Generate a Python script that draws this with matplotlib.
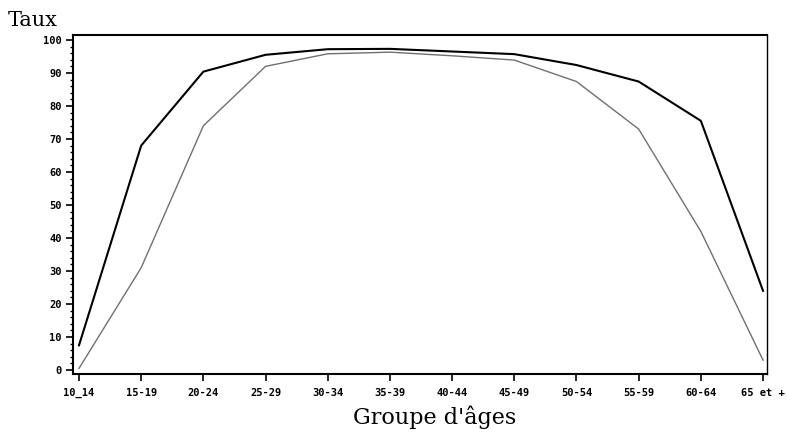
import matplotlib.pyplot as plt
from matplotlib.ticker import MultipleLocator

age_groups = ["10_14", "15-19", "20-24", "25-29", "30-34", "35-39",
              "40-44", "45-49", "50-54", "55-59", "60-64", "65 et +"]
taux_hommes = [7.5, 68, 90.4, 95.5, 97.2, 97.3, 96.5, 95.7, 92.4, 87.4, 75.5, 24]
taux_femmes = [0.5, 31, 74, 92, 95.8, 96.3, 95.2, 93.9, 87.4, 73, 42, 3]
y_ticks = [0, 10, 20, 30, 40, 50, 60, 70, 80, 90, 100]


def main():
    fig = plt.figure(figsize=(7.87, 4.38), dpi=100)
    ax = fig.add_axes([0.0928, 0.1461, 0.8818, 0.774])

    x = range(len(age_groups))
    ax.plot(x, taux_hommes, color="black", linewidth=1.5)
    ax.plot(x, taux_femmes, color="#707070", linewidth=1.0)

    ax.set_xlim(-0.096, 11.064)
    ax.set_ylim(-1.2, 101.5)

    ax.set_xticks(list(x))
    ax.set_xticklabels(age_groups, family="DejaVu Sans Mono",
                       fontsize=7.5, fontweight="bold")
    ax.set_yticks(y_ticks)
    ax.set_yticklabels([str(v) for v in y_ticks], family="DejaVu Sans Mono",
                       fontsize=7.5, fontweight="bold")
    ax.yaxis.set_minor_locator(MultipleLocator(2))
    ax.tick_params(axis="both", which="major", length=5, width=1.2,
                   direction="out", pad=3)
    ax.tick_params(axis="x", which="major", pad=5)
    ax.tick_params(axis="y", which="minor", length=2.5, width=1.0)

    for side in ["left", "bottom", "top"]:
        ax.spines[side].set_linewidth(1.5)
    ax.spines["right"].set_linewidth(1.0)

    fig.text(0.01, 0.932, "Taux", family="DejaVu Serif", fontsize=15,
             ha="left", va="bottom")
    fig.text(0.552, 0.02, "Groupe d'âges", family="DejaVu Serif",
             fontsize=16, ha="center", va="bottom")

    fig.savefig("out.png", dpi=100)


if __name__ == "__main__":
    main()
